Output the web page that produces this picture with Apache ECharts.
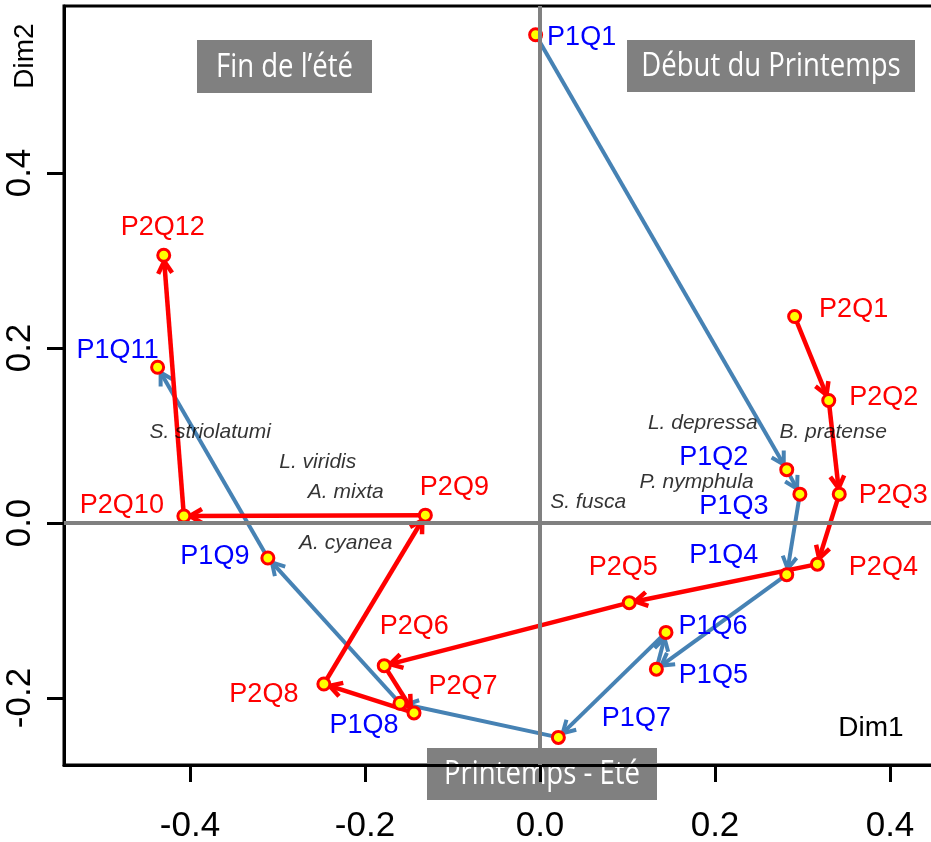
<!DOCTYPE html>
<html>
<head>
<meta charset="utf-8">
<script src="https://cdn.jsdelivr.net/npm/echarts@6/dist/echarts.min.js"></script>
<style>
  html, body { margin: 0; padding: 0; background: #fff; }
  #chart { width: 931px; height: 842px; }
</style>
</head>
<body>
<div id="chart"></div>
<script>
// Seasonal trajectories of the two ponds on the first factorial plane (Dim1 x Dim2)

// Pond 1 sampling dates
const p1Names = ['P1Q1', 'P1Q2', 'P1Q3', 'P1Q4', 'P1Q5', 'P1Q6', 'P1Q7', 'P1Q8', 'P1Q9', 'P1Q11'];
const p1Dim1  = [-0.005, 0.282, 0.297, 0.282, 0.133, 0.144, 0.021, -0.160, -0.311, -0.437];
const p1Dim2  = [0.558, 0.061, 0.033, -0.059, -0.167, -0.125, -0.245, -0.206, -0.040, 0.178];

// Pond 2 sampling dates
const p2Names = ['P2Q1', 'P2Q2', 'P2Q3', 'P2Q4', 'P2Q5', 'P2Q6', 'P2Q7', 'P2Q8', 'P2Q9', 'P2Q10', 'P2Q12'];
const p2Dim1  = [0.291, 0.330, 0.342, 0.317, 0.102, -0.178, -0.144, -0.247, -0.131, -0.407, -0.430];
const p2Dim2  = [0.236, 0.140, 0.033, -0.047, -0.091, -0.163, -0.217, -0.184, 0.009, 0.008, 0.306];

// Species (supplementary)
const speciesNames = ['S. striolatumi', 'L. viridis', 'A. mixta', 'A. cyanea', 'L. depressa', 'B. pratense', 'P. nymphula', 'S. fusca'];
const speciesDim1  = [-0.377, -0.254, -0.222, -0.222, 0.186, 0.335, 0.179, 0.055];
const speciesDim2  = [0.104, 0.069, 0.035, -0.023, 0.114, 0.104, 0.047, 0.024];

// Axis ticks
const xTicks = [-0.4, -0.2, 0.0, 0.2, 0.4];
const yTicks = [-0.2, 0.0, 0.2, 0.4];

// Season annotations
const seasonLabels = ['Fin de l\u2019été', 'Début du Printemps', 'Printemps - Eté'];

// ---- styling / layout ----
const BLUE_LINE = '#4682B4';
const RED_LINE = '#FF0000';
const BLUE_TEXT = '#0000FF';
const RED_TEXT = '#FF0000';
const HEAD_LEN = 14;
const HEAD_ANGLE = Math.PI / 6;
const TIP_GAP = 6;

// label offsets (text centre relative to point, px)
const p1LabelOffsets = [[46, 3], [-73, -12], [-66, 12], [-63, -19], [57, 6], [47, -6], [78, -19], [-36, 22], [-53, -1], [-40, -17]];
const p2LabelOffsets = [[59, -7], [55, -3], [54, 1], [66, 3], [-6, -35], [30, -39], [49, -26], [-60, 11], [29, -28], [-62, -10], [-1, -28]];

// annotation boxes [left, top, width, height]
const seasonBoxes = [[197, 40, 175, 53], [627, 40, 288, 52], [427, 748, 230, 52]];

const chart = echarts.init(document.getElementById('chart'));

function arrowSeries(xs, ys, color, width, z) {
  const segs = [];
  for (let i = 0; i < xs.length - 1; i++) segs.push([xs[i], ys[i], xs[i + 1], ys[i + 1]]);
  return {
    type: 'custom',
    z: z,
    silent: true,
    data: segs,
    encode: { x: [0, 2], y: [1, 3] },
    renderItem: function (params, api) {
      const a = api.coord([api.value(0), api.value(1)]);
      const b = api.coord([api.value(2), api.value(3)]);
      const dx = b[0] - a[0], dy = b[1] - a[1];
      const L = Math.hypot(dx, dy) || 1;
      const ux = dx / L, uy = dy / L;
      const tip = [b[0] - ux * TIP_GAP, b[1] - uy * TIP_GAP];
      const leg = function (ang) {
        const c = Math.cos(ang), s = Math.sin(ang);
        const bx = -ux, by = -uy;
        return [tip[0] + HEAD_LEN * (bx * c - by * s), tip[1] + HEAD_LEN * (bx * s + by * c)];
      };
      return {
        type: 'group',
        children: [
          { type: 'line', shape: { x1: a[0], y1: a[1], x2: tip[0], y2: tip[1] },
            style: { stroke: color, lineWidth: width, lineCap: 'butt' } },
          { type: 'polyline', shape: { points: [leg(HEAD_ANGLE), tip, leg(-HEAD_ANGLE)] },
            style: { stroke: color, lineWidth: width, fill: null, lineJoin: 'miter', lineCap: 'butt' } }
        ]
      };
    }
  };
}

function pointData(names, xs, ys, offsets, textColor) {
  return names.map(function (n, i) {
    return {
      name: n,
      value: [xs[i], ys[i]],
      label: { offset: offsets[i], color: textColor }
    };
  });
}

const pointItems = pointData(p1Names, p1Dim1, p1Dim2, p1LabelOffsets, BLUE_TEXT)
  .concat(pointData(p2Names, p2Dim1, p2Dim2, p2LabelOffsets, RED_TEXT));

const speciesItems = speciesNames.map(function (n, i) {
  return { name: n, value: [speciesDim1[i], speciesDim2[i]] };
});

const AXIS_FONT = "'Liberation Sans', Arial, sans-serif";
const TEXT_FONT = "'Liberation Sans', Arial, sans-serif";

const option = {
  animation: false,
  backgroundColor: '#fff',
  grid: {
    left: 64, top: 6, right: -4, bottom: 77,
    outerBoundsMode: 'none', containLabel: false,
    show: true, borderColor: '#000', borderWidth: 3, backgroundColor: 'transparent'
  },
  xAxis: {
    type: 'value',
    min: -0.544, max: 0.45143,
    axisLine: { show: true, onZero: false, lineStyle: { color: '#000', width: 3 } },
    axisTick: { show: true, length: 17, customValues: xTicks, lineStyle: { color: '#000', width: 3 } },
    axisLabel: {
      customValues: xTicks, margin: 44,
      formatter: function (v) { return v.toFixed(1); },
      fontFamily: AXIS_FONT, fontSize: 35, color: '#000'
    },
    splitLine: { show: false }
  },
  yAxis: {
    type: 'value',
    min: -0.27657, max: 0.59086,
    axisLine: { show: true, onZero: false, lineStyle: { color: '#000', width: 3 } },
    axisTick: { show: true, length: 17, customValues: yTicks, lineStyle: { color: '#000', width: 3 } },
    axisLabel: {
      customValues: yTicks, margin: 26, rotate: 90,
      formatter: function (v) { return v.toFixed(1); },
      fontFamily: AXIS_FONT, fontSize: 35, color: '#000'
    },
    splitLine: { show: false }
  },
  series: [
    {
      // reference axes through the origin
      type: 'line', data: [], z: 1, silent: true,
      markLine: {
        silent: true, symbol: 'none', animation: false,
        label: { show: false },
        lineStyle: { color: '#808080', width: 4, type: 'solid' },
        data: [{ xAxis: 0 }, { yAxis: 0 }]
      }
    },
    arrowSeries(p1Dim1, p1Dim2, BLUE_LINE, 4, 2),
    arrowSeries(p2Dim1, p2Dim2, RED_LINE, 4.5, 3),
    {
      type: 'scatter', z: 4, silent: true,
      symbol: 'circle', symbolSize: 12,
      itemStyle: { color: '#FFFF00', borderColor: '#FF0000', borderWidth: 3, opacity: 1 },
      label: {
        show: true, position: 'inside', align: 'center', verticalAlign: 'middle',
        formatter: '{b}', fontFamily: TEXT_FONT, fontSize: 27
      },
      data: pointItems
    },
    {
      type: 'scatter', z: 5, silent: true,
      symbol: 'circle', symbolSize: 1,
      itemStyle: { color: 'rgba(0,0,0,0)' },
      label: {
        show: true, position: 'inside', align: 'center', verticalAlign: 'middle',
        formatter: '{b}', fontFamily: TEXT_FONT, fontStyle: 'italic', fontSize: 21, color: '#000'
      },
      data: speciesItems
    }
  ],
  graphic: seasonBoxes.map(function (b, i) {
    return {
      type: 'group', z: 100,
      children: [
        { type: 'rect', shape: { x: b[0], y: b[1], width: b[2], height: b[3] }, style: { fill: '#808080' } },
        { type: 'text', x: b[0] + b[2] / 2, y: b[1] + b[3] / 2 + 1, scaleX: 0.86,
          style: { text: seasonLabels[i], fill: '#fff', font: "32px 'Open Sans', sans-serif",
                   textAlign: 'center', textVerticalAlign: 'middle' } }
      ]
    };
  }).concat([
    { type: 'text', z: 100, x: 871, y: 728,
      style: { text: 'Dim1', fill: '#000', font: "28px 'Liberation Sans', Arial, sans-serif", textAlign: 'center', textVerticalAlign: 'middle' } },
    { type: 'text', z: 100, x: 25, y: 56, rotation: Math.PI / 2,
      style: { text: 'Dim2', fill: '#000', font: "28px 'Liberation Sans', Arial, sans-serif", textAlign: 'center', textVerticalAlign: 'middle' } }
  ])
};

chart.setOption(option);
</script>
</body>
</html>
